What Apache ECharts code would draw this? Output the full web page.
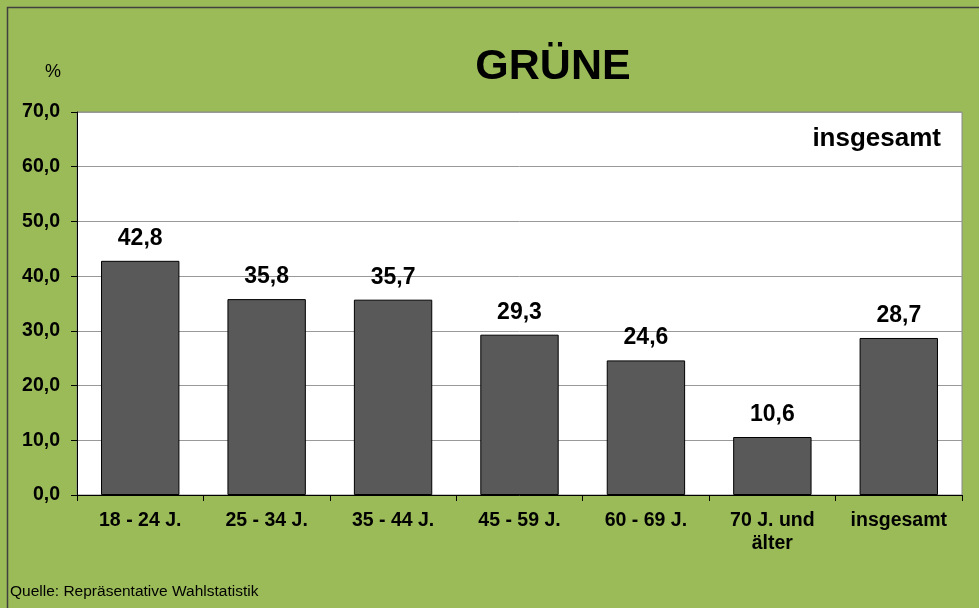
<!DOCTYPE html>
<html>
<head>
<meta charset="utf-8">
<script src="https://cdn.jsdelivr.net/npm/echarts@6/dist/echarts.min.js"></script>
<style>
  html, body { margin: 0; padding: 0; background: #9BBB59; }
  #chart { width: 979px; height: 608px; }
</style>
</head>
<body>
<div id="chart"></div>
<script>
var categories = ['18 - 24 J.', '25 - 34 J.', '35 - 44 J.', '45 - 59 J.', '60 - 69 J.', '70 J. und\nälter', 'insgesamt'];
var values = [42.8, 35.8, 35.7, 29.3, 24.6, 10.6, 28.7];

var chart = echarts.init(document.getElementById('chart'));

var fmt = function (v) {
    return Number(v).toFixed(1).replace('.', ',');
};

var option = {
    backgroundColor: '#9BBB59',
    animation: false,
    textStyle: { fontFamily: 'Liberation Sans, Arial, sans-serif' },
    title: {
        text: 'GRÜNE',
        left: 548, top: 41,
        textAlign: 'center',
        textStyle: { fontSize: 43, fontWeight: 'bold', color: '#000' }
    },
    graphic: [
        {
            type: 'rect', left: 5, top: 5,
            shape: { width: 990, height: 620 },
            style: { fill: 'none', stroke: '#404040', lineWidth: 1.5 }
        },
        {
            type: 'text', left: 45, top: 63,
            style: { text: '%', font: '18px Liberation Sans, Arial', fill: '#000' }
        },
        {
            type: 'text', right: 38, top: 126,
            style: { text: 'insgesamt', font: 'bold 26px Liberation Sans, Arial', fill: '#000' }
        },
        {
            type: 'text', left: 10, top: 584,
            style: { text: 'Quelle: Repräsentative Wahlstatistik', font: '15.5px Liberation Sans, Arial', fill: '#000' }
        }
    ],
    grid: { left: 77, right: 17, top: 112, bottom: 113, show: true, backgroundColor: '#fff', borderColor: '#888', borderWidth: 1 },
    xAxis: {
        type: 'category',
        data: categories,
        axisLine: { lineStyle: { color: '#000', width: 1 } },
        axisTick: { show: true, length: 6, lineStyle: { color: '#000' } },
        axisLabel: { color: '#000', fontSize: 19.5, fontWeight: 'bold', margin: 14, lineHeight: 23, interval: 0 }
    },
    yAxis: {
        type: 'value',
        min: 0, max: 70, interval: 10,
        axisLine: { show: true, lineStyle: { color: '#000', width: 1 } },
        axisTick: { show: true, length: 6, lineStyle: { color: '#000' } },
        axisLabel: { color: '#000', fontSize: 19.5, fontWeight: 'bold', margin: 17, formatter: fmt },
        splitLine: { lineStyle: { color: '#999', width: 1 } }
    },
    series: [{
        type: 'bar',
        data: values,
        barWidth: '62%',
        itemStyle: { color: '#595959', borderColor: '#000', borderWidth: 1 },
        label: {
            show: true, position: 'top', distance: 11,
            color: '#000', fontSize: 23, fontWeight: 'bold',
            formatter: function (p) { return fmt(p.value); }
        }
    }]
};

chart.setOption(option);
</script>
</body>
</html>
